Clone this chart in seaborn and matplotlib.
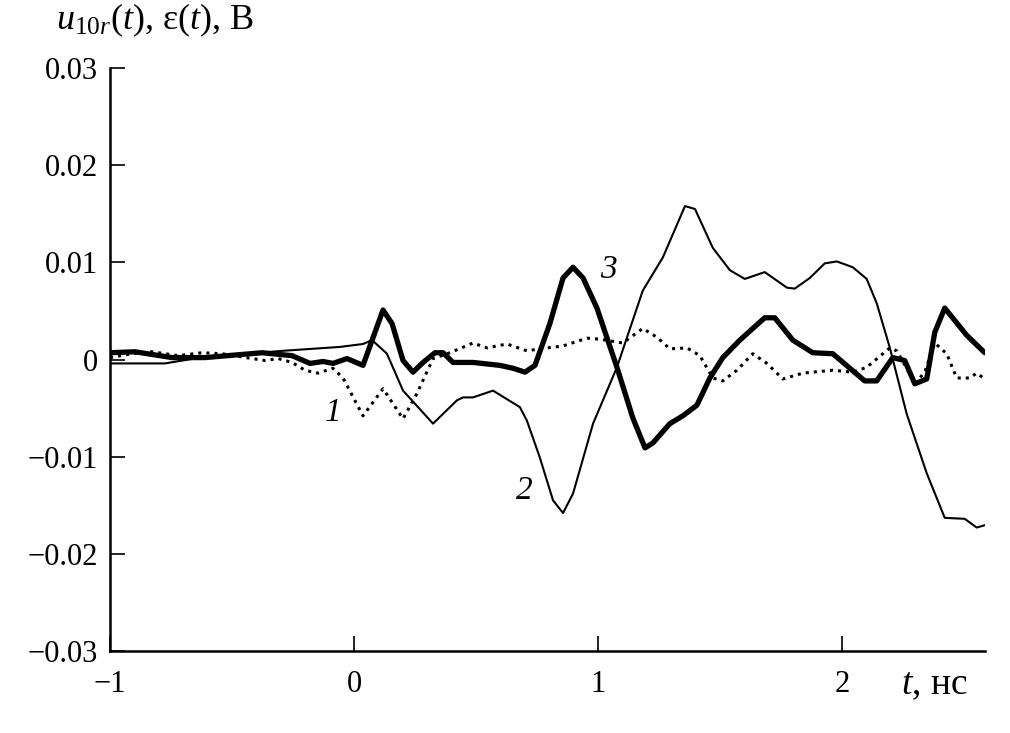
import matplotlib
matplotlib.use("Agg")
import matplotlib.pyplot as plt
import seaborn as sns

# curve 1 (dotted)
t1 = [-1.0, -0.91, -0.828, -0.721, -0.623, -0.541, -0.418, -0.365, -0.311, -0.254,
      -0.201, -0.148, -0.086, -0.045, 0.037, 0.119, 0.201, 0.258, 0.324, 0.393,
      0.488, 0.545, 0.627, 0.709, 0.762, 0.857, 0.955, 1.008, 1.102, 1.184,
      1.242, 1.295, 1.365, 1.418, 1.471, 1.512, 1.57, 1.635, 1.693, 1.758,
      1.84, 1.963, 2.045, 2.102, 2.197, 2.225, 2.266, 2.299, 2.34, 2.381,
      2.43, 2.471, 2.525, 2.553, 2.586]
v1 = [0.0002, 0.0006, 0.0008, 0.0004, 0.0007, 0.0006, 0.0001, -0.0001, 0.0001, -0.0003,
      -0.0011, -0.0014, -0.0009, -0.0019, -0.0058, -0.0030, -0.0061, -0.0035, 0.0001, 0.0007,
      0.0017, 0.0012, 0.0016, 0.0009, 0.0011, 0.0014, 0.0022, 0.0021, 0.0017, 0.0032,
      0.0023, 0.0011, 0.0012, 0.0004, -0.0019, -0.0022, -0.0011, 0.0006, -0.0004, -0.0020,
      -0.0014, -0.0011, -0.0013, -0.0008, 0.0012, 0.0009, -0.0009, -0.0025, -0.0013, 0.0017,
      0.0006, -0.0019, -0.0019, -0.0014, -0.0020]

# curve 2 (thin)
t2 = [-1.0, -0.775, -0.631, -0.291, -0.057, 0.037, 0.074, 0.135, 0.201, 0.324,
      0.422, 0.447, 0.488, 0.57, 0.68, 0.709, 0.762, 0.816, 0.857, 0.898,
      0.98, 1.078, 1.184, 1.266, 1.357, 1.398, 1.471, 1.541, 1.602, 1.684,
      1.775, 1.807, 1.869, 1.93, 1.98, 2.045, 2.102, 2.143, 2.197, 2.266,
      2.348, 2.422, 2.504, 2.553, 2.594]
v2 = [-0.0004, -0.0004, 0.0002, 0.0009, 0.0013, 0.0016, 0.0020, 0.0006, -0.0032, -0.0066,
      -0.0042, -0.0039, -0.0039, -0.0032, -0.0049, -0.0063, -0.0101, -0.0145, -0.0158, -0.0138,
      -0.0066, -0.0008, 0.0071, 0.0105, 0.0158, 0.0155, 0.0115, 0.0092, 0.0083, 0.0090,
      0.0074, 0.0073, 0.0084, 0.0099, 0.0101, 0.0095, 0.0083, 0.0058, 0.0012, -0.0056,
      -0.0117, -0.0163, -0.0164, -0.0173, -0.0170]

# curve 3 (thick)
t3 = [-1.0, -0.898, -0.746, -0.611, -0.377, -0.254, -0.18, -0.127, -0.086, -0.029,
      0.037, 0.119, 0.156, 0.201, 0.242, 0.283, 0.332, 0.365, 0.406, 0.488,
      0.598, 0.652, 0.701, 0.742, 0.803, 0.857, 0.898, 0.939, 0.996, 1.078,
      1.143, 1.193, 1.225, 1.295, 1.348, 1.406, 1.459, 1.512, 1.582, 1.635,
      1.684, 1.725, 1.799, 1.881, 1.963, 2.033, 2.094, 2.143, 2.209, 2.258,
      2.299, 2.348, 2.381, 2.422, 2.512, 2.586]
v3 = [0.0007, 0.0008, 0.0002, 0.0002, 0.0007, 0.0004, -0.0004, -0.0002, -0.0004, 0.0001,
      -0.0006, 0.0051, 0.0037, -0.0001, -0.0013, -0.0003, 0.0007, 0.0007, -0.0003, -0.0003,
      -0.0006, -0.0009, -0.0013, -0.0006, 0.0037, 0.0084, 0.0095, 0.0084, 0.0053, -0.0008,
      -0.0060, -0.0091, -0.0086, -0.0066, -0.0058, -0.0047, -0.0019, 0.0002, 0.0020, 0.0032,
      0.0043, 0.0043, 0.0020, 0.0007, 0.0006, -0.0009, -0.0022, -0.0022, 0.0002, -0.0001,
      -0.0025, -0.0020, 0.0028, 0.0053, 0.0025, 0.0007]

y_ticks = [-0.03, -0.02, -0.01, 0, 0.01, 0.02, 0.03]
y_tick_labels = ["\u22120.03", "\u22120.02", "\u22120.01", "0", "0.01", "0.02", "0.03"]
x_ticks = [-1, 0, 1, 2]
x_tick_labels = ["\u22121", "0", "1", "2"]

sns.set_style("ticks")
plt.rcParams['font.family'] = ['Liberation Serif', 'DejaVu Serif']
plt.rcParams['mathtext.fontset'] = 'custom'
plt.rcParams['mathtext.rm'] = 'Liberation Serif'
plt.rcParams['mathtext.it'] = 'Liberation Serif:italic'
plt.rcParams['text.color'] = 'black'

fig = plt.figure(figsize=(10.1, 7.33), dpi=100)
ax = fig.add_axes([0.109, 0.112, 0.866, 0.795])

sns.lineplot(x=t1, y=v1, ax=ax, color='black', linewidth=2.2, linestyle=':')
sns.lineplot(x=t2, y=v2, ax=ax, color='black', linewidth=1.5)
sns.lineplot(x=t3, y=v3, ax=ax, color='black', linewidth=3.8)

ax.set_xlim(-1, 2.586)
ax.set_ylim(-0.03, 0.03)

ax.set_xticks(x_ticks)
ax.set_xticklabels(x_tick_labels)
ax.set_yticks(y_ticks)
ax.set_yticklabels(y_tick_labels)

ax.tick_params(
    axis='both',
    direction='in',
    length=11,
    width=1.2,
    labelsize=22,
    color='black',
    labelcolor='black'
)
ax.tick_params(axis='x', pad=14)
ax.tick_params(axis='y', pad=9)

for side in ['top', 'right']:
    ax.spines[side].set_visible(False)
for side in ['left', 'bottom']:
    ax.spines[side].set_linewidth(1.8)
    ax.spines[side].set_color('black')

ax.set_xlabel('')
ax.set_ylabel('')

# curve numbers
ax.text(-0.086, -0.0055, '1', fontsize=24, style='italic', color='black', ha='center', va='center')
ax.text(0.697, -0.0135, '2', fontsize=24, style='italic', color='black', ha='center', va='center')
ax.text(1.045, 0.0092, '3', fontsize=24, style='italic', color='black', ha='center', va='center')

fig.text(0.055, 0.972, r'$u_{10r}(t)$, ε($t$), В', fontsize=26, color='black', ha='left', va='center')
fig.text(0.892, 0.066, r'$t$, нс', fontsize=27, color='black', ha='left', va='center')

fig.savefig('out.png', dpi=100)
